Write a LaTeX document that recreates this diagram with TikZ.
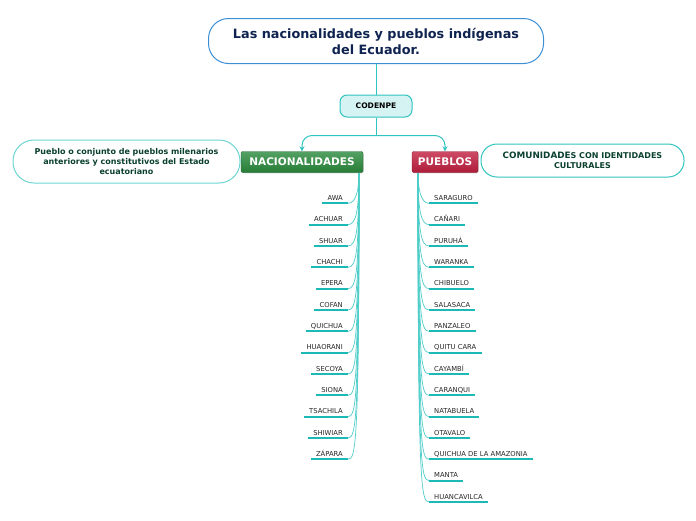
\documentclass[tikz,border=0pt]{standalone}
\usepackage{fontspec}
\setmainfont{DejaVu Sans}
\definecolor{EcTeal}{HTML}{2FC4C0}
\definecolor{EcLine}{HTML}{1CBAB6}
\definecolor{EcBlue}{HTML}{3B8FD6}
\definecolor{EcNavy}{HTML}{0F2350}
\definecolor{EcGreen}{HTML}{2A8A3C}
\definecolor{EcRed}{HTML}{C21F3F}
\definecolor{EcText}{HTML}{0B4030}
\usetikzlibrary{positioning,arrows.meta,calc,shadows}

\begin{document}
\begin{tikzpicture}[x=1pt, y=-1pt,
    every node/.style={font=\bfseries\fontsize{8}{10}\selectfont},
    bubble/.style={rectangle, rounded corners=#1, draw=EcTeal!70, line width=1pt,
      fill=white, align=center, text=EcText},
    branch/.style={rectangle, rounded corners=2pt, draw=#1!70!black, top color=#1!80!white,
      bottom color=#1!90!black, text=white, minimum height=21pt, inner sep=0pt,
      font=\bfseries\fontsize{10.5}{12}\selectfont,
      drop shadow={shadow xshift=0.8pt, shadow yshift=-0.8pt, opacity=0.3}},
    leaf/.style={font=\fontsize{6.8}{8}\selectfont, text=black!85, inner xsep=5pt,
      inner ysep=2.5pt, text height=4.9pt, text depth=0pt},
    link/.style={draw=EcTeal, line width=1pt},
    twig/.style={draw=EcTeal!85, line width=0.7pt},
    uline/.style={draw=EcLine, line width=2pt}]
    \fill[white] (0,0) rectangle (696,520);

    % title and CODENPE
    \node[rectangle, rounded corners=20pt, draw=EcBlue, line width=1pt, fill=white,
          minimum width=335pt, minimum height=45pt, align=center, text=EcNavy,
          font=\bfseries\fontsize{12.8}{16}\selectfont] (title) at (376,41)
          {Las nacionalidades y pueblos indígenas\\del Ecuador.};
    \node[rectangle, rounded corners=7pt, draw=EcTeal, line width=1pt, fill=EcTeal!20,
          minimum width=72pt, minimum height=22pt, inner sep=0pt,
          font=\bfseries\fontsize{7.6}{9}\selectfont] (codenpe) at (376,106) {CODENPE};
    \draw[link] (title) -- (codenpe);

    % the two branches
    \node[branch=EcGreen, minimum width=122pt] (nac) at (302,162) {NACIONALIDADES};
    \node[branch=EcRed, minimum width=66pt] (pue) at (445,162) {PUEBLOS};
    \draw[link] (codenpe.south) -- ++(0,18) coordinate (fork);
    \draw[link, rounded corners=10pt, -{Stealth[length=5pt,width=5pt]}] (fork) -| (nac.north);
    \draw[link, rounded corners=10pt, -{Stealth[length=5pt,width=5pt]}] (fork) -| (pue.north);

    % descriptions
    \node[bubble=21pt, minimum width=227pt, minimum height=43pt] (natdesc) at (126.5,161.5)
          {Pueblo o conjunto de pueblos milenarios\\anteriores y constitutivos del Estado\\ecuatoriano};
    \node[bubble=16pt, draw=EcTeal, minimum width=203pt, minimum height=33pt] (puedesc) at (582.5,160.5)
          {{\fontsize{8.8}{10}\selectfont COMUNIDADE}S CON IDENTIDADES\\CULTURALES};

    % nacionalidades
    \coordinate (ltrunk) at (359,173);
    \foreach \txt [count=\i] in {AWA, ACHUAR, SHUAR, CHACHI, EPERA, COFAN, QUICHUA,
        HUAORANI, SECOYA, SIONA, TSACHILA, SHIWIAR, ZÁPARA} {
      \node[leaf, anchor=south east] (n\i) at (348,{203.3+21.33*(\i-1)}) {\txt};
      \draw[uline] (n\i.south west) -- (n\i.south east);
      \draw[twig] (ltrunk) .. controls ($(ltrunk |- n\i.south east)+(0,-14)$)
        and ($(ltrunk |- n\i.south east)+(-3,0)$) .. (n\i.south east);
    }

    % pueblos
    \coordinate (rtrunk) at (418,173);
    \foreach \txt [count=\i] in {SARAGURO, CAÑARI, PURUHÁ, WARANKA, CHIBUELO, SALASACA,
        PANZALEO, QUITU CARA, CAYAMBÍ, CARANQUI, NATABUELA, OTAVALO,
        QUICHUA DE LA AMAZONIA, MANTA, HUANCAVILCA} {
      \node[leaf, anchor=south west] (p\i) at (429,{203.3+21.33*(\i-1)}) {\txt};
      \draw[uline] (p\i.south west) -- (p\i.south east);
      \draw[twig] (rtrunk) .. controls ($(rtrunk |- p\i.south west)+(0,-14)$)
        and ($(rtrunk |- p\i.south west)+(3,0)$) .. (p\i.south west);
    }
  \end{tikzpicture}
\end{document}
